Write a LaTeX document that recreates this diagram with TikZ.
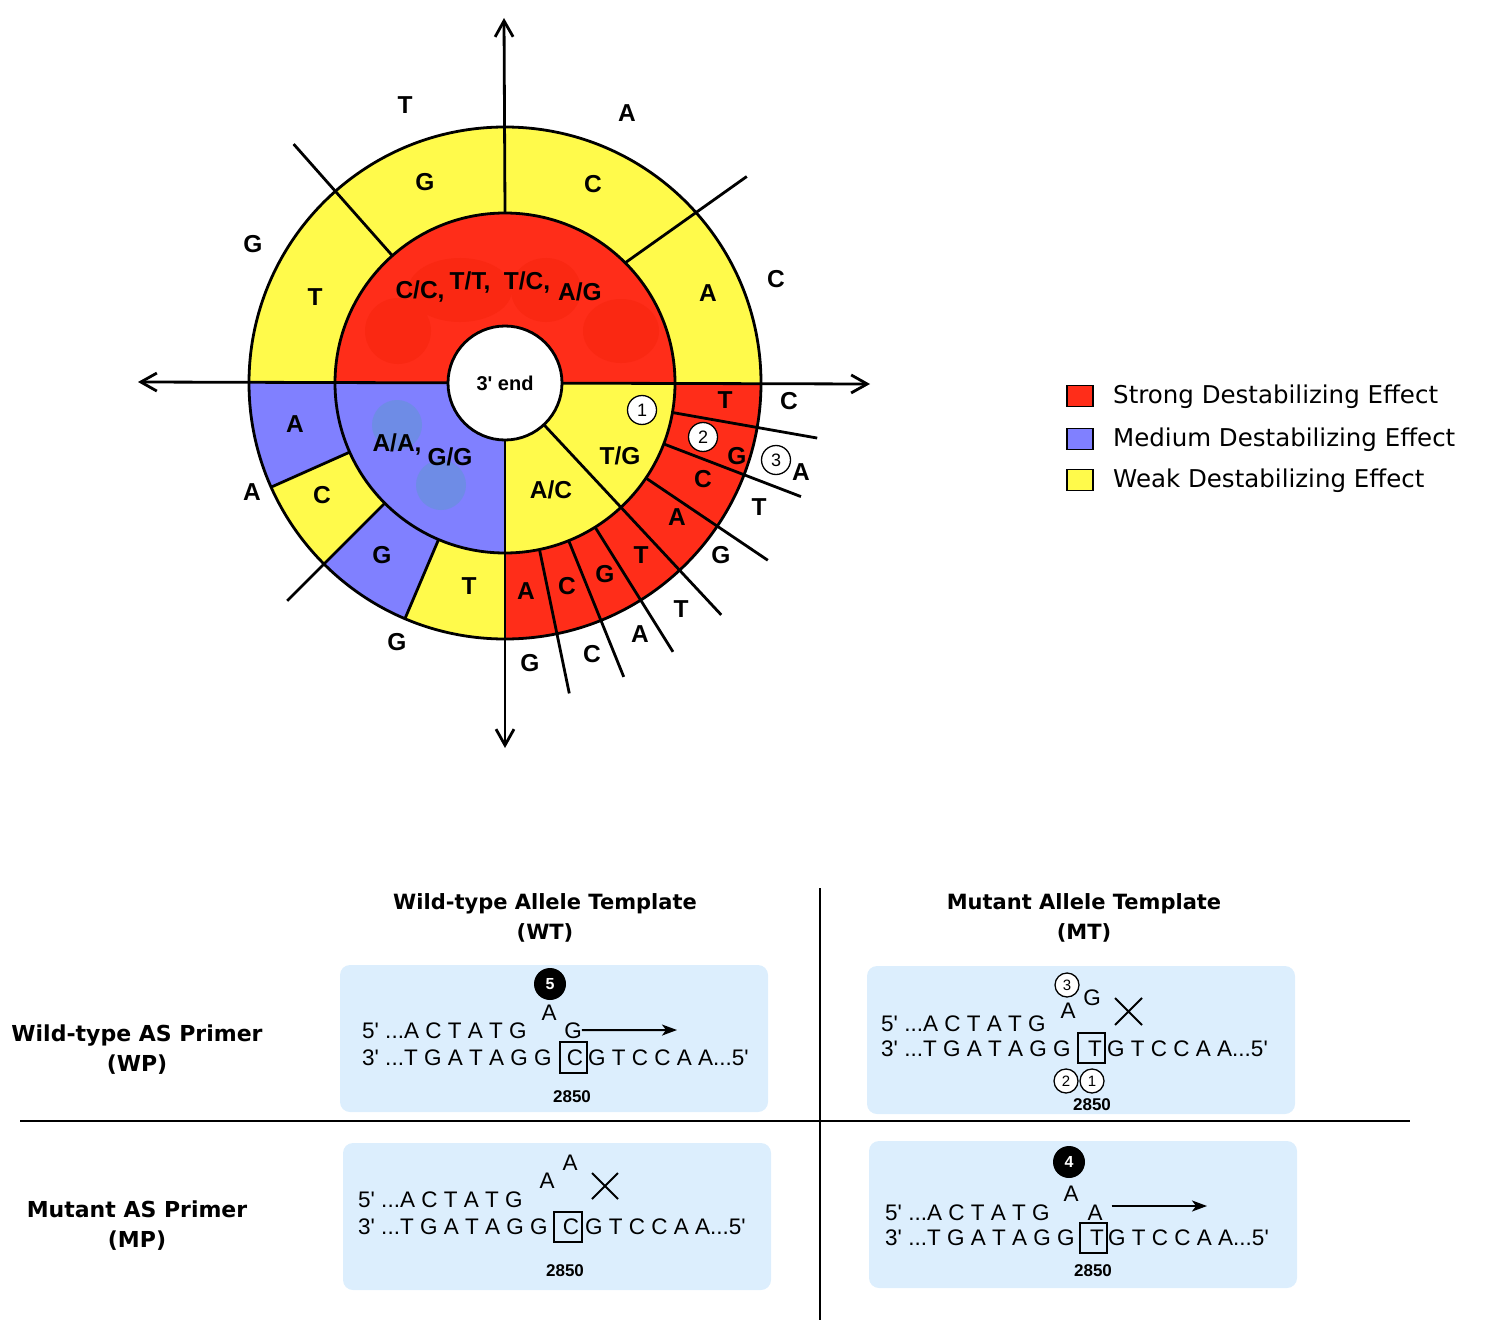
\documentclass[tikz,border=0pt]{standalone}
\usepackage{fontspec}
\setmainfont{Liberation Sans}
\newfontfamily\legendfont{DejaVu Sans}
\usetikzlibrary{arrows.meta,positioning}
\definecolor{strongred}{HTML}{FF2D19}
\definecolor{mediumblue}{HTML}{8080FF}
\definecolor{weakyellow}{HTML}{FFFA4B}
\definecolor{panelblue}{HTML}{DCEEFD}
\definecolor{blobred}{HTML}{FA2812}
\definecolor{blobblue}{HTML}{6E8CE6}
\newcommand{\apos}{\textquotesingle}
% one coloured piece of a ring: colour, start angle, end angle, inner and outer radius
\newcommand{\ringpart}[5]{%
  \fill[#1] (#2:#4) arc[start angle=#2,end angle=#3,radius=#4] -- (#3:#5) arc[start angle=#3,end angle=#2,radius=#5] -- cycle;}
\tikzset{
  wline/.style={line width=2.8pt},
  nuc/.style={inner sep=0pt, font=\bfseries\fontsize{24.5}{26}\selectfont},
  mispair/.style={inner sep=0pt, font=\bfseries\fontsize{24.5}{26}\selectfont},
  numcirc/.style={circle, draw, fill=white, line width=1.3pt, inner sep=0pt, minimum size=29pt, font=\fontsize{18}{18}\selectfont},
  smallcirc/.style={numcirc, minimum size=24pt, font=\fontsize{15}{15}\selectfont},
  blackcirc/.style={circle, fill=black, text=white, inner sep=0pt, minimum size=32pt, font=\bfseries\fontsize{16}{16}\selectfont},
  seq/.style={inner sep=0pt, anchor=base west, font=\fontsize{22.5}{24}\selectfont},
  seqpos/.style={inner sep=0pt, font=\bfseries\fontsize{17}{18}\selectfont},
  seqarrow/.style={line width=2pt, -{Stealth[length=15pt,width=11pt,inset=4pt]}},
  panel/.style={fill=panelblue, rounded corners=10pt},
  colhead/.style={align=center, font=\legendfont\bfseries\fontsize{21}{30}\selectfont},
  rowhead/.style={colhead, font=\legendfont\bfseries\fontsize{22}{30}\selectfont},
  legtext/.style={anchor=west, inner sep=0pt, font=\legendfont\fontsize{24.5}{26}\selectfont},
  legbox/.style={draw, line width=1.5pt, minimum width=26pt, minimum height=21pt, inner sep=0pt}
}

\begin{document}
\begin{tikzpicture}[x=1pt,y=-1pt]
\useasboundingbox (0,0) rectangle (1490,1324);

% mismatch wheel
\begin{scope}[shift={(505,383)},y=1pt,>={Straight Barb[length=16pt,width=18pt]}]
  \ringpart{strongred}{0}{180}{50}{170}
  \ringpart{mediumblue}{180}{270}{50}{170}
  \ringpart{weakyellow}{270}{360}{50}{170}
  \ringpart{weakyellow}{0}{180}{170}{256}
  \ringpart{mediumblue}{180}{204}{170}{256}
  \ringpart{weakyellow}{204}{225}{170}{256}
  \ringpart{mediumblue}{225}{247}{170}{256}
  \ringpart{weakyellow}{247}{270}{170}{256}
  \ringpart{strongred}{270}{360}{170}{256}
  \fill[blobred] (-107,52) ellipse[x radius=33,y radius=33];
  \fill[blobred] (-45,93) ellipse[x radius=52,y radius=32];
  \fill[blobred] (41,93) ellipse[x radius=35,y radius=32];
  \fill[blobred] (116,52) ellipse[x radius=38,y radius=32];
  \fill[blobblue] (-108,-42) circle[radius=25];
  \fill[blobblue] (-64,-102) circle[radius=25];
  \draw[wline] (0,0) circle[radius=170];
  \draw[wline] (0,0) circle[radius=256];
  \draw[wline,<->] (-367,1) -- (365,-1);
  \draw[wline,->] (90:170) -- (-1,365);
  \draw[wline,->] (0,-57) -- (0,-365);
  \draw[wline] (131.5:170) -- (131.5:319);
  \draw[wline] (45:170) -- (40.5:318);
  \draw[wline] (204:170) -- (204:256);
  \draw[wline] (225:170) -- (225:308);
  \draw[wline] (247:170) -- (247:256);
  \draw[wline] (-10:170) -- (-10:317);
  \draw[wline] (-21:170) -- (-21:317);
  \draw[wline] (-34:170) -- (-34:317);
  \draw[wline] (-47:57) -- (-47:317);
  \draw[wline] (-58:170) -- (-58:317);
  \draw[wline] (-68:170) -- (-68:317);
  \draw[wline] (-78.3:170) -- (-78.3:317);
  \draw[wline,fill=white] (0,0) circle[radius=57];
\end{scope}
\node[inner sep=0pt,font=\bfseries\fontsize{20}{22}\selectfont] (end3) at (505,383) {3\apos{} end};

% mismatch pairs of the inner ring
\node[mispair] (pCC) at (420,292) {C/C,};
\node[mispair] (pTT) at (470,283) {T/T,};
\node[mispair] (pTC) at (527,283) {T/C,};
\node[mispair] (pAG) at (580,292) {A/G};
\node[mispair] (pAA) at (397,445) {A/A,};
\node[mispair] (pGG) at (450,457) {G/G};
\node[mispair] (pAC) at (551,490) {A/C};
\node[mispair] (pTG) at (620,456) {T/G};

% bases of the outer ring
\node[nuc] (r1) at (315,297) {T};  \node[nuc] (r2) at (425,182) {G};
\node[nuc] (r3) at (593,184) {C};  \node[nuc] (r4) at (708,293) {A};
\node[nuc] (r5) at (295,424) {A};  \node[nuc] (r6) at (322,495) {C};
\node[nuc] (r7) at (382,555) {G};  \node[nuc] (r8) at (469,586) {T};
\node[nuc] (r9) at (725,400) {T};  \node[nuc] (r10) at (737,456) {G};
\node[nuc] (r11) at (703,479) {C}; \node[nuc] (r12) at (677,517) {A};
\node[nuc] (r13) at (641,555) {T}; \node[nuc] (r14) at (605,574) {G};
\node[nuc] (r15) at (567,586) {C}; \node[nuc] (r16) at (526,591) {A};

% bases outside the wheel
\node[nuc] (o1) at (405,105) {T};  \node[nuc] (o2) at (627,113) {A};
\node[nuc] (o3) at (253,244) {G};  \node[nuc] (o4) at (776,279) {C};
\node[nuc] (o5) at (252,492) {A};  \node[nuc] (o6) at (397,642) {G};
\node[nuc] (o7) at (789,401) {C};  \node[nuc] (o8) at (801,472) {A};
\node[nuc] (o9) at (759,507) {T};  \node[nuc] (o10) at (721,555) {G};
\node[nuc] (o11) at (681,609) {T}; \node[nuc] (o12) at (640,634) {A};
\node[nuc] (o13) at (592,654) {C}; \node[nuc] (o14) at (530,663) {G};

\node[numcirc] (w1) at (642,410) {1};
\node[numcirc] (w2) at (703,437) {2};
\node[numcirc] (w3) at (776,460) {3};

% legend
\node[legbox,fill=strongred] (lgred) at (1080,396) {};
\node[legtext] (lgredtxt) at (1113,397) {Strong Destabilizing Effect};
\node[legbox,fill=mediumblue] (lgblue) at (1080,439) {};
\node[legtext] (lgbluetxt) at (1113,440) {Medium Destabilizing Effect};
\node[legbox,fill=weakyellow] (lgyellow) at (1080,480) {};
\node[legtext] (lgyellowtxt) at (1113,481) {Weak Destabilizing Effect};

% table of primers and templates
\node[colhead] (hwt) at (545,918) {Wild-type Allele Template\\(WT)};
\node[colhead] (hmt) at (1084,918) {Mutant Allele Template\\(MT)};
\node[rowhead] (hwp) at (137,1050) {Wild-type AS Primer\\(WP)};
\node[rowhead] (hmp) at (137,1226) {Mutant AS Primer\\(MP)};
\draw[line width=2pt] (820,888) -- (820,1320);
\draw[line width=2pt] (20,1121) -- (1410,1121);

% WP on WT
\fill[panel] (340,965) rectangle (768,1112);
\node[seq] (wpwt5) at (362,1038) {5\apos\ ...A C T A T G};
\node[seq] (wpwt3) at (362,1065) {3\apos\ ...T G A T A G G};
\node[seq,anchor=base] (wpwtC) at (575,1065) {C};
\node[seq] (wpwtR) at (588,1065) {G T C C A A...5\apos};
\draw[line width=1.5pt] (560,1042) rectangle (587,1073);
\node[seq,anchor=base] (wpwtA) at (549,1020) {A};
\node[seq,anchor=base] (wpwtG) at (573,1038) {G};
\node[blackcirc] (wpwtn) at (550,984) {5};
\coordinate (wpwtend) at (677,1030);
\draw[seqarrow] (wpwtG) -- (wpwtend);
\node[seqpos] (wpwtpos) at (572,1097) {2850};

% WP on MT
\fill[panel] (867,966) rectangle (1295,1114);
\node[seq] (wpmt5) at (881,1031) {5\apos\ ...A C T A T G};
\node[seq] (wpmt3) at (881,1056) {3\apos\ ...T G A T A G G};
\node[seq,anchor=base] (wpmtT) at (1095,1056) {T};
\node[seq] (wpmtR) at (1107,1056) {G T C C A A...5\apos};
\draw[line width=1.5pt] (1078,1033) rectangle (1105,1063);
\node[seq,anchor=base] (wpmtA) at (1068,1018) {A};
\node[seq,anchor=base] (wpmtG) at (1092,1005) {G};
\node[smallcirc] (wpmt3c) at (1067,985) {3};
\node[smallcirc] (wpmt2c) at (1066,1081) {2};
\node[smallcirc] (wpmt1c) at (1092,1081) {1};
\draw[line width=2pt] (1115,998) -- (1142,1025) (1142,998) -- (1115,1025);
\node[seqpos] (wpmtpos) at (1092,1105) {2850};

% MP on WT
\fill[panel] (343,1143) rectangle (771,1290);
\node[seq] (mpwt5) at (358,1207) {5\apos\ ...A C T A T G};
\node[seq] (mpwt3) at (358,1234) {3\apos\ ...T G A T A G G};
\node[seq,anchor=base] (mpwtC) at (571,1234) {C};
\node[seq] (mpwtR) at (585,1234) {G T C C A A...5\apos};
\draw[line width=1.5pt] (554,1212) rectangle (582,1242);
\node[seq,anchor=base] (mpwtA1) at (547,1188) {A};
\node[seq,anchor=base] (mpwtA2) at (570,1170) {A};
\draw[line width=2pt] (592,1173) -- (618,1199) (618,1173) -- (592,1199);
\node[seqpos] (mpwtpos) at (565,1271) {2850};

% MP on MT
\fill[panel] (869,1141) rectangle (1297,1288);
\node[seq] (mpmt5) at (885,1220) {5\apos\ ...A C T A T G};
\node[seq] (mpmt3) at (885,1245) {3\apos\ ...T G A T A G G};
\node[seq,anchor=base] (mpmtT) at (1097,1245) {T};
\node[seq] (mpmtR) at (1108,1245) {G T C C A A...5\apos};
\draw[line width=1.5pt] (1080,1223) rectangle (1107,1253);
\node[seq,anchor=base] (mpmtA1) at (1071,1201) {A};
\node[seq,anchor=base] (mpmtA2) at (1095,1220) {A};
\node[blackcirc] (mpmtn) at (1069,1162) {4};
\coordinate (mpmtend) at (1207,1206);
\draw[seqarrow] ([xshift=9pt]mpmtA2.east |- mpmtend) -- (mpmtend);
\node[seqpos] (mpmtpos) at (1093,1271) {2850};
\end{tikzpicture}
\end{document}
